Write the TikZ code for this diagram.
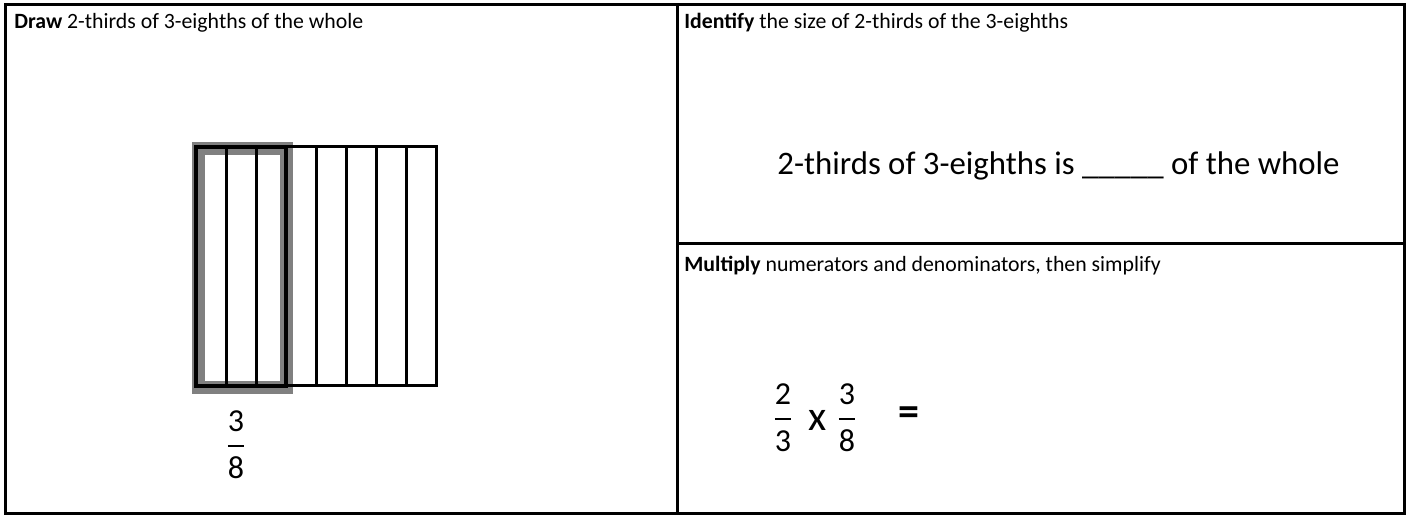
\documentclass[tikz,border=0pt]{standalone}
\usepackage{amsmath}
\usepackage{fontspec}
\setmainfont{Carlito}
\usepackage{tikz}
\usetikzlibrary{calc}

\tikzset{
    heading/.style={anchor=base west, inner sep=0pt, font=\fontsize{10.9}{13}\selectfont},
    bigtext/.style={anchor=west, inner sep=0pt, font=\fontsize{16.4}{20}\selectfont},
    fracnode/.style={inner sep=0pt, font=\fontsize{16}{20}\selectfont},
    signnode/.style={inner sep=0pt, font=\fontsize{21}{24}\selectfont},
    frame/.style={line width=1.5pt},
    strip/.style={line width=1.5pt},
}

% fraction with a heavier bar
\newcommand{\bfrac}[2]{$\genfrac{}{}{1pt}{0}{\text{#1}}{\text{#2}}$}

\begin{document}
\begin{tikzpicture}[x=0.5pt, y=-0.5pt]
    % Page size in pixels
    \useasboundingbox (0,0) rectangle (1408,517);

    % Outer frame and the dividers between the three boxes
    \draw[frame] (5,5) rectangle (1404,514);
    \draw[frame] (677,5) -- (677,514);
    \draw[frame] (677,244) -- (1404,244);

    % Width of one eighth and the top/bottom of the whole
    \def\w{30}
    \def\ya{147}
    \def\yb{386}

    % Grey box round the 3-eighths (drawn first, under the lines)
    \draw[line width=6.5pt, black!50] (198.5,148.5) rectangle (286.5,387.5);

    % The whole, cut into eighths
    \draw[strip] (196,\ya) rectangle (436,\yb);
    \draw[strip] (196+\w,\ya) -- (196+\w,\yb);
    \draw[strip] (196+2*\w,\ya) -- (196+2*\w,\yb);
    \draw[strip] (196+4*\w,\ya) -- (196+4*\w,\yb);
    \draw[strip] (196+5*\w,\ya) -- (196+5*\w,\yb);
    \draw[strip] (196+6*\w,\ya) -- (196+6*\w,\yb);
    \draw[strip] (196+7*\w,\ya) -- (196+7*\w,\yb);

    % The 3-eighths, with a heavier edge
    \draw[line width=2pt] (196,\ya) rectangle (196+3*\w,\yb);

    % Fraction under the 3-eighths
    \node[fracnode] (eighths) at (236,445) {\bfrac{3}{8}};

    % Headings of the three boxes
    \node[heading] (draw) at (14,29) {\textbf{Draw} 2-thirds of 3-eighths of the whole};
    \node[heading] (identify) at (684,29) {\textbf{Identify} the size of 2-thirds of the 3-eighths};
    \node[heading] (multiply) at (684,272) {\textbf{Multiply} numerators and denominators, then simplify};

    % Sentence to fill in
    \node[bigtext] (sentence) at (777,166) {2-thirds of 3-eighths is \_\_\_\_\_ of the whole};

    % Product of the two fractions
    \node[fracnode] (twothirds) at (783,418) {\bfrac{2}{3}};
    \node[signnode] (times) at (818,420) {x};
    \node[fracnode] (threeeighths) at (847,418) {\bfrac{3}{8}};
    \node[signnode] (equals) at (909,416) {\textbf{=}};
\end{tikzpicture}
\end{document}
